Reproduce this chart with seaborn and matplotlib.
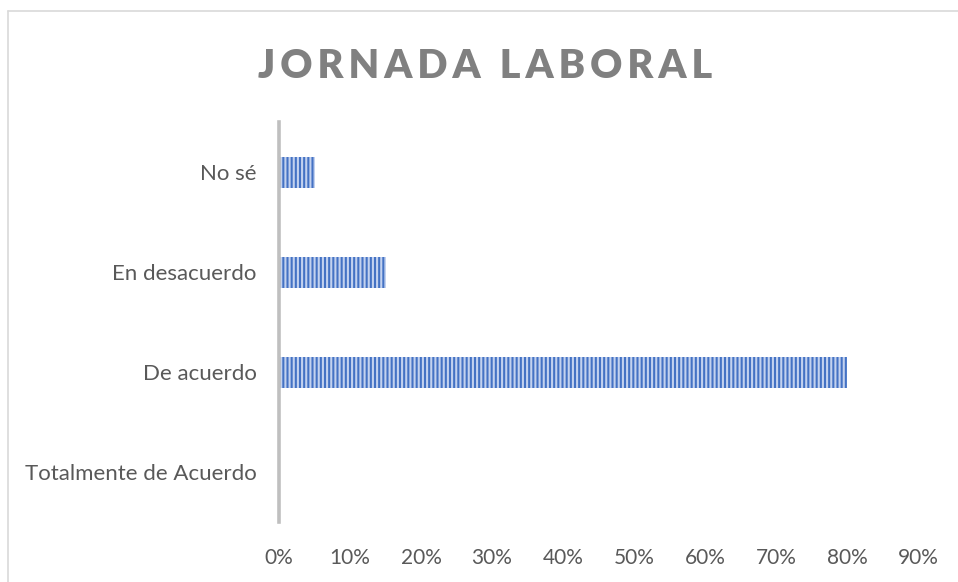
import matplotlib
matplotlib.use("Agg")
import matplotlib.pyplot as plt
import seaborn as sns
import pandas as pd
from matplotlib.lines import Line2D
from matplotlib.ticker import FuncFormatter

categories = ["No sé", "En desacuerdo", "De acuerdo", "Totalmente de Acuerdo"]
values = [0.05, 0.15, 0.80, 0.0]
xticks = [0.0, 0.1, 0.2, 0.3, 0.4, 0.5, 0.6, 0.7, 0.8, 0.9]
title = "JORNADA LABORAL"

sns.set_style("white")
plt.rcParams["font.family"] = ["Lato", "DejaVu Sans"]
plt.rcParams["hatch.linewidth"] = 1.5

df = pd.DataFrame({"cat": categories, "val": values})

fig = plt.figure(figsize=(9.58, 5.82), dpi=100)
W, H = 958, 582
ax = fig.add_axes([279 / W, 1 - 522 / H, (918 - 279) / W, 400 / H])

sns.barplot(data=df, x="val", y="cat", order=categories, orient="h",
            color="#4472C4", width=0.31, ax=ax, saturation=1)
for p in ax.patches:
    p.set_facecolor("#4472C4")
    p.set_edgecolor("#C3D2EF")
    p.set_hatch("||||")
    p.set_linewidth(0)

ax.set_xlim(0, 0.9)
ax.set_ylim(3.5, -0.5)
ax.set_xticks(xticks)
ax.xaxis.set_major_formatter(FuncFormatter(lambda v, _: f"{round(v * 100)}%"))
ax.set_xlabel("")
ax.set_ylabel("")
for s in ["top", "right", "bottom"]:
    ax.spines[s].set_visible(False)
ax.spines["left"].set_color("#BFBFBF")
ax.spines["left"].set_linewidth(2.6)
ax.tick_params(axis="x", length=0, pad=19, labelsize=15, labelcolor="#595959")
ax.tick_params(axis="y", length=0, pad=16, labelsize=16, labelcolor="#595959")
ax.grid(False)

spaced = "\u2009".join(w for w in title)
fig.text(485 / W, 1 - 66 / H, spaced,
         ha="center", va="center", fontsize=28.5, fontweight="heavy", color="#808080")

# chart border (left and top visible)
fig.add_artist(Line2D([7.5 / W, 7.5 / W], [0, 1 - 11 / H], transform=fig.transFigure,
                      color="#D9D9D9", lw=1.2))
fig.add_artist(Line2D([7.5 / W, 1], [1 - 11 / H, 1 - 11 / H], transform=fig.transFigure,
                      color="#D9D9D9", lw=1.2))

fig.savefig("out.png", dpi=100)
